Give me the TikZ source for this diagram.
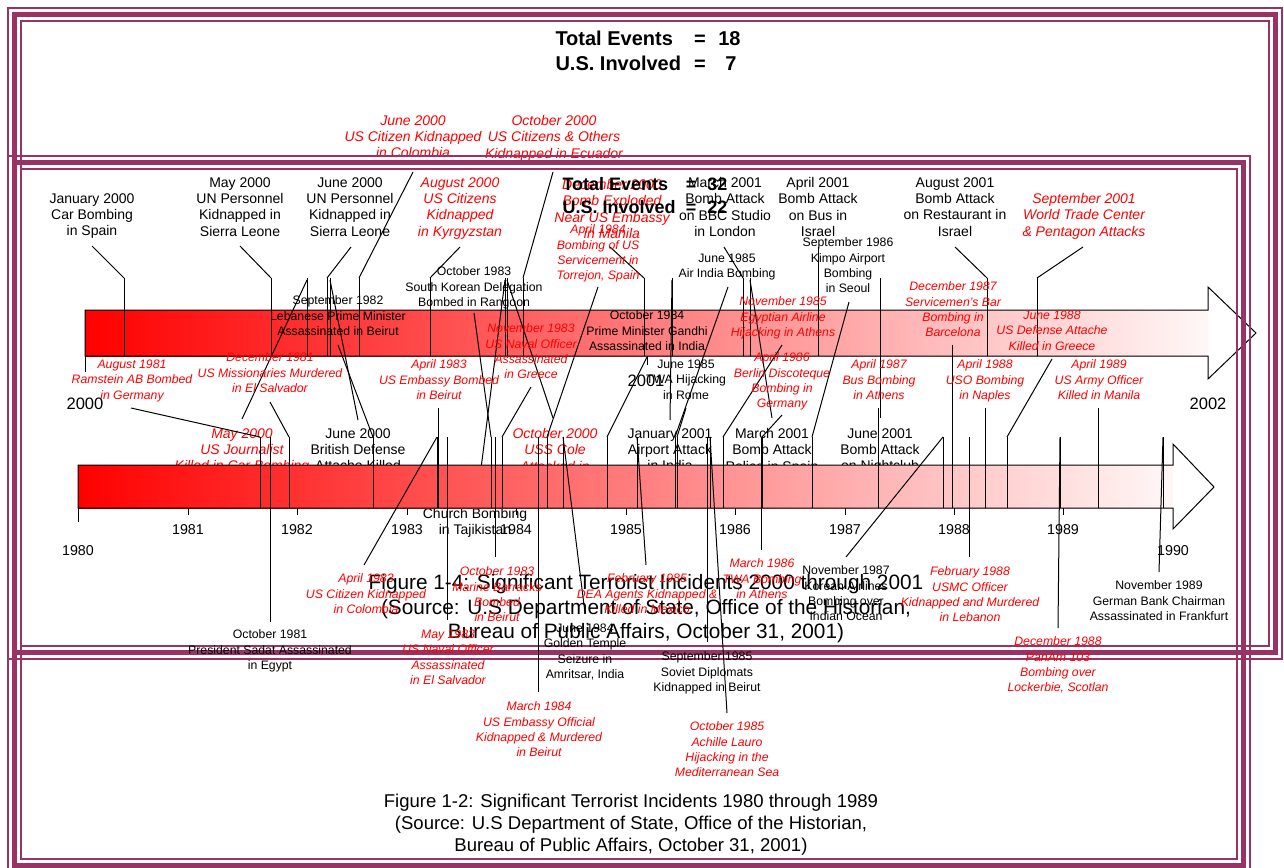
\documentclass[tikz,border=0pt]{standalone}
\usepackage{fontspec}
\setmainfont{Liberation Sans}
\definecolor{bcol}{RGB}{153,51,102}
\definecolor{tred}{RGB}{255,0,0}
\begin{document}
\begin{tikzpicture}[x=0.75pt,y=-0.75pt,line width=0.75pt,
  la/.style={align=center,inner sep=0pt,anchor=north,yshift=3.9pt,font=\fontsize{10.5}{12.3}\selectfont},
  lar/.style={la,text=tred,font=\fontsize{10.5}{12.3}\selectfont\itshape},
  lb/.style={align=center,inner sep=0pt,anchor=north,yshift=3.4pt,font=\fontsize{9.2}{11.5}\selectfont},
  lbr/.style={lb,text=tred,font=\fontsize{9.2}{11.5}\selectfont\itshape},
  yra/.style={inner sep=0pt,font=\fontsize{12.4}{14}\selectfont},
  yrb/.style={inner sep=0pt,font=\fontsize{10.7}{13}\selectfont},
  tta/.style={inner sep=0pt,anchor=base,font=\fontsize{15}{18}\selectfont\bfseries},
  ttb/.style={inner sep=0pt,anchor=base,font=\fontsize{13.5}{16}\selectfont\bfseries},
  thinb/.style={draw=bcol,line width=1.5pt},
  thickb/.style={draw=bcol,line width=3.75pt},
  lead/.style={draw=black,line width=0.75pt}]
\useasboundingbox (0,0) rectangle (1284,867);
\fill[white] (0,0) rectangle (1284,867);

%================ FIGURE 1-4 (2000-2001) =================
\draw[thinb] (8,8) rectangle (1282,659);
\draw[thickb] (14.5,14.5) rectangle (1275.5,652.5);
\draw[thinb] (21,21) rectangle (1269,646);

\shade[left color=red,right color=red!3] (85,310) rectangle (1208,356);
\fill[white] (1208,287) -- (1256,333) -- (1208,379) -- cycle;

% leaders above
\draw[lead] (92,246) -- (124,278);
\draw[lead] (240,246) -- (271,278);
\draw[lead] (351,247) -- (327,278);
\draw[lead] (413,172) -- (359,278);
\draw[lead] (460,247) -- (430,278);
\draw[lead] (553,172) -- (523,278);
\draw[lead] (610,247) -- (644,278);
\draw[lead] (724,247) -- (743,278);
\draw[lead] (818,247) -- (818,278);
\draw[lead] (955,247) -- (987,278);
\draw[lead] (1083,247) -- (1037,278);
% leaders below
\draw[lead] (242,419) -- (307,280);
\draw[lead] (358,420) -- (330,280);
\draw[lead] (553,418) -- (507,280);
\draw[lead] (477,500) -- (505,280);
\draw[lead] (670,420) -- (672,280);
\draw[lead] (772,418) -- (750,280);
\draw[lead] (880,418) -- (880,280);
\foreach \x in {124,271,307,327,330,359,430,505,507,523,644,672,743,750,818,880,987,1037}
  \draw[lead] (\x,278) -- (\x,356);

\draw[lead] (85,310) -- (1208,310) -- (1208,287) -- (1256,333) -- (1208,379) -- (1208,356) -- (85,356) -- cycle;
\draw[lead] (85,356) -- (85,372);
\draw[lead] (647,356) -- (647,365);
\node[yra] (y2000) at (85,404) {2000};
\node[yra] (y2001) at (646,381) {2001};
\node[yra] (y2002) at (1208,404) {2002};

\node[tta,anchor=base west] (ta1) at (555,46) {Total Events};
\node[tta] (ta2) at (700,46) {=};
\node[tta,anchor=base east] (ta3) at (741,46) {18};
\node[tta,anchor=base west] (ta4) at (555,70) {U.S. Involved};
\node[tta] (ta5) at (700,70) {=};
\node[tta,anchor=base east] (ta6) at (737,70) {7};

\node[la] (a1) at (92,198) {January 2000\\Car Bombing\\in Spain};
\node[la] (a2) at (240,182) {May 2000\\UN Personnel\\Kidnapped in\\Sierra Leone};
\node[la] (a3) at (350,182) {June 2000\\UN Personnel\\Kidnapped in\\Sierra Leone};
\node[lar] (a4) at (413,120) {June 2000\\US Citizen Kidnapped\\in Colombia};
\node[lar] (a5) at (460,182) {August 2000\\US Citizens\\Kidnapped\\in Kyrgyzstan};
\node[lar] (a6) at (554,120) {October 2000\\US Citizens \& Others\\Kidnapped in Ecuador};
\node[lar] (a7) at (612,184) {December 2000\\Bomb Exploded\\Near US Embassy\\in Manila};
\node[la] (a8) at (725,182) {March 2001\\Bomb Attack\\on BBC Studio\\in London};
\node[la] (a9) at (818,182) {April 2001\\Bomb Attack\\on Bus in\\Israel};
\node[la] (a10) at (955,182) {August 2001\\Bomb Attack\\on Restaurant in\\Israel};
\node[lar] (a11) at (1084,198) {September 2001\\World Trade Center\\\& Pentagon Attacks};
\node[lar] (a12) at (242,433) {May 2000\\US Journalist\\Killed in Car Bombing};
\node[la] (a13) at (358,433) {June 2000\\British Defense\\Attache Killed};
\node[lar] (a14) at (555,433) {October 2000\\USS Cole\\Attacked in};
\node[la] (a15) at (670,433) {January 2001\\Airport Attack\\in India};
\node[la] (a16) at (772,433) {March 2001\\Bomb Attack\\Police in Spain};
\node[la] (a17) at (880,433) {June 2001\\Bomb Attack\\on Nightclub};
\node[la] (a18) at (475,513) {Church Bombing\\in Tajikistan};

\node[align=center,inner sep=0pt,anchor=north,yshift=5.8pt,font=\fontsize{15.6}{18.2}\selectfont] (capa) at (646,582)
  {Figure 1-4: Significant Terrorist Incidents 2000 through 2001\\(Source: U.S Department of State, Office of the Historian,\\Bureau of Public Affairs, October 31, 2001)};

%================ FIGURE 1-2 (1980-1989) =================
\draw[thinb] (8,156) rectangle (1250,872);
\draw[thickb] (14.5,162.5) rectangle (1243.5,865.5);
\draw[thinb] (21,169) rectangle (1237,859);

\shade[left color=red,right color=red!3] (78,465) rectangle (1173,508);
\fill[white] (1173,444) -- (1214,487) -- (1173,529) -- cycle;

% leaders above
\draw[lead] (131,408) -- (260,437);
\draw[lead] (270,402) -- (289,437);
\draw[lead] (338,345) -- (373,437);
\draw[lead] (438,408) -- (438,437);
\draw[lead] (474,313) -- (491,437);
\draw[lead] (531,387) -- (502,437);
\draw[lead] (598,287) -- (547,437);
\draw[lead] (647,357) -- (607,437);
\draw[lead] (728,287) -- (675,437);
\draw[lead] (686,408) -- (677,437);
\draw[lead] (782,345) -- (723,437);
\draw[lead] (782,415) -- (762,437);
\draw[lead] (849,302) -- (812,437);
\draw[lead] (878,408) -- (878,437);
\draw[lead] (952,345) -- (952,437);
\draw[lead] (985,408) -- (985,437);
\draw[lead] (1052,359) -- (1007,437);
\draw[lead] (1098,408) -- (1098,437);
% leaders below
\draw[lead] (270,622) -- (270,437);
\draw[lead] (364,565) -- (437,437);
\draw[lead] (447,620) -- (447,437);
\draw[lead] (495,557) -- (495,437);
\draw[lead] (538,692) -- (538,437);
\draw[lead] (585,613) -- (563,437);
\draw[lead] (646,565) -- (637,437);
\draw[lead] (707,642) -- (707,437);
\draw[lead] (727,713) -- (710,437);
\draw[lead] (761,550) -- (761,437);
\draw[lead] (846,557) -- (943,437);
\draw[lead] (969,557) -- (969,437);
\draw[lead] (1058,628) -- (1060,437);
\draw[lead] (1159,572) -- (1163,437);
\foreach \x in {260,289,373,438,491,502,547,607,675,677,723,762,812,878,952,985,1007,1098,437,447,495,538,563,637,707,710,761,943,969,1060,1163}
  \draw[lead] (\x,437) -- (\x,508);

\draw[lead] (78,465) -- (1173,465) -- (1173,444) -- (1214,487) -- (1173,529) -- (1173,508) -- (78,508) -- cycle;
\draw[lead] (78,508) -- (78,522);
\foreach \x in {188,297,407,516,626,735,845,954,1063}
  \draw[lead] (\x,508) -- (\x,515);
\node[yrb] (y1980) at (78,551) {1980};
\node[yrb] (y1981) at (188,530) {1981};
\node[yrb] (y1982) at (297,530) {1982};
\node[yrb] (y1983) at (407,530) {1983};
\node[yrb] (y1984) at (516,530) {1984};
\node[yrb] (y1985) at (626,530) {1985};
\node[yrb] (y1986) at (735,530) {1986};
\node[yrb] (y1987) at (845,530) {1987};
\node[yrb] (y1988) at (954,530) {1988};
\node[yrb] (y1989) at (1063,530) {1989};
\node[yrb] (y1990) at (1173,551) {1990};

\node[ttb,anchor=base west] (tb1) at (562,190.5) {Total Events};
\node[ttb] (tb2) at (691,190.5) {=};
\node[ttb,anchor=base east] (tb3) at (728,190.5) {32};
\node[ttb,anchor=base west] (tb4) at (562,213.5) {U.S. Involved};
\node[ttb] (tb5) at (691,213.5) {=};
\node[ttb,anchor=base east] (tb6) at (728,213.5) {22};

\node[lbr] (b1) at (132,364) {August 1981\\Ramstein AB Bombed\\in Germany};
\node[lbr] (b2) at (270,357) {December 1981\\US Missionaries Murdered\\in El Salvador};
\node[lb] (b3) at (338,300) {September 1982\\Lebanese Prime Minister\\Assassinated in Beirut};
\node[lb] (b4) at (474,271) {October 1983\\South Korean Delegation\\Bombed in Rangoon};
\node[lbr] (b5) at (439,364) {April 1983\\US Embassy Bombed\\in Beirut};
\node[lbr] (b6) at (531,328) {November 1983\\US Naval Officer\\Assassinated\\in Greece};
\node[lbr] (b7) at (598,229) {April 1984\\Bombing of US\\Servicement in\\Torrejon, Spain};
\node[lb] (b8) at (647,315) {October 1984\\Prime Minister Gandhi\\Assassinated in India};
\node[lb] (b9) at (727,258) {June 1985\\Air India Bombing};
\node[lb] (b10) at (686,364) {June 1985\\TWA Hijacking\\in Rome};
\node[lbr] (b11) at (783,301) {November 1985\\Egyptian Airline\\Hijacking in Athens};
\node[lbr] (b12) at (782,357) {April 1986\\Berlin Discoteque\\Bombing in\\Germany};
\node[lb] (b13) at (848,242) {September 1986\\Kimpo Airport\\Bombing\\in Seoul};
\node[lbr] (b14) at (879,364) {April 1987\\Bus Bombing\\in Athens};
\node[lbr] (b15) at (953,286) {December 1987\\Servicemen's Bar\\Bombing in\\Barcelona};
\node[lbr] (b16) at (985,364) {April 1988\\USO Bombing\\in Naples};
\node[lbr] (b17) at (1052,315) {June 1988\\US Defense Attache\\Killed in Greece};
\node[lbr] (b18) at (1099,364) {April 1989\\US Army Officer\\Killed in Manila};

\node[lb] (c1) at (270,634) {October 1981\\President Sadat Assassinated\\in Egypt};
\node[lbr] (c2) at (366,578) {April 1983\\US Citizen Kidnapped\\in Colombia};
\node[lbr] (c3) at (448,634) {May 1983\\US Naval Officer\\Assassinated\\in El Salvador};
\node[lbr] (c4) at (497,571) {October 1983\\Marine Barracks\\Bombed\\in Beirut};
\node[lbr] (c5) at (539,706) {March 1984\\US Embassy Official\\Kidnapped \& Murdered\\in Beirut};
\node[lb] (c6) at (585,628) {June 1984\\Golden Temple\\Seizure in\\Amritsar, India};
\node[lbr] (c7) at (647,578) {February 1985\\DEA Agents Kidnapped \&\\Killed in Mexico};
\node[lb] (c8) at (707,656) {September 1985\\Soviet Diplomats\\Kidnapped in Beirut};
\node[lbr] (c9) at (727,726) {October 1985\\Achille Lauro\\Hijacking in the\\Mediterranean Sea};
\node[lbr] (c10) at (762,563) {March 1986\\TWA Bombing\\in Athens};
\node[lb] (c11) at (846,570) {November 1987\\Korean Airlines\\Bombing over\\Indian Ocean};
\node[lbr] (c12) at (970,571) {February 1988\\USMC Officer\\Kidnapped and Murdered\\in Lebanon};
\node[lbr] (c13) at (1058,641) {December 1988\\PanAm 103\\Bombing over\\Lockerbie, Scotlan};
\node[lb] (c14) at (1159,585) {November 1989\\German Bank Chairman\\Assassinated in Frankfurt};

\node[align=center,inner sep=0pt,anchor=north,yshift=5.1pt,font=\fontsize{13.9}{16.5}\selectfont] (capb) at (631,800)
  {Figure 1-2: Significant Terrorist Incidents 1980 through 1989\\(Source: U.S Department of State, Office of the Historian,\\Bureau of Public Affairs, October 31, 2001)};
\end{tikzpicture}
\end{document}
